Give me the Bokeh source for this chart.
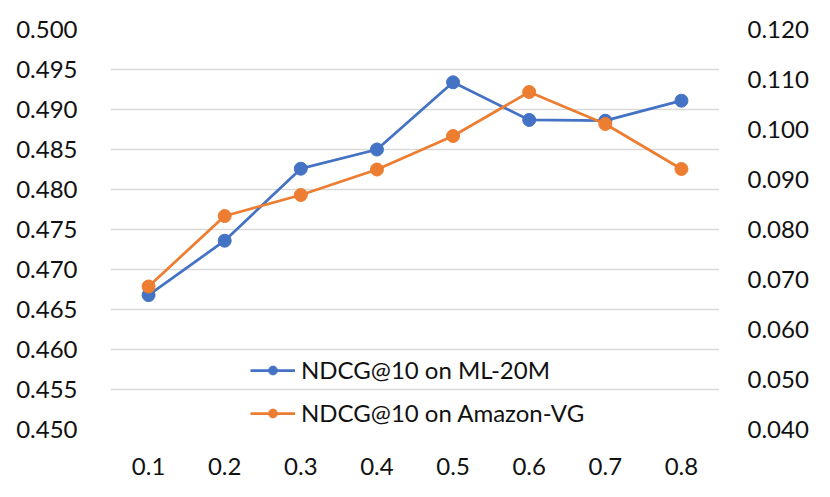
from bokeh.plotting import figure
from bokeh.models import Range1d, LinearAxis, FixedTicker, Legend, LegendItem, FactorRange, NumeralTickFormatter
from bokeh.embed import file_html
from bokeh.resources import INLINE

x_labels = ["0.1", "0.2", "0.3", "0.4", "0.5", "0.6", "0.7", "0.8"]
ml20m = [0.4668, 0.4736, 0.4826, 0.4850, 0.4934, 0.4887, 0.4886, 0.4911]
amazon_vg = [0.0686, 0.0827, 0.0869, 0.0920, 0.0987, 0.1075, 0.1011, 0.0921]
left_ticks = [0.450, 0.455, 0.460, 0.465, 0.470, 0.475, 0.480, 0.485, 0.490, 0.495, 0.500]
right_ticks = [0.040, 0.050, 0.060, 0.070, 0.080, 0.090, 0.100, 0.110, 0.120]

BLUE = "#4472C4"
ORANGE = "#ED7D31"
FONT = "Lato"
FS = "24px"
TXT = "#111111"

p = figure(x_range=FactorRange(*x_labels), y_range=Range1d(0.45, 0.50),
           width=814, height=481, output_backend="svg", toolbar_location=None,
           min_border_left=110, min_border_right=95, min_border_top=29, min_border_bottom=52)
p.extra_y_ranges = {"right": Range1d(0.04, 0.12)}

p.outline_line_color = None
p.xgrid.grid_line_color = None
p.ygrid.grid_line_color = "#D9D9D9"
p.ygrid.grid_line_width = 1.5
p.ygrid.ticker = FixedTicker(ticks=left_ticks)

def style_axis(ax, standoff):
    ax.axis_line_color = None
    ax.major_tick_line_color = None
    ax.minor_tick_line_color = None
    ax.major_label_text_font = FONT
    ax.major_label_text_font_size = FS
    ax.major_label_text_color = TXT
    ax.major_label_standoff = standoff

p.yaxis.ticker = FixedTicker(ticks=left_ticks)
p.yaxis.formatter = NumeralTickFormatter(format="0.000")
style_axis(p.yaxis[0], 27)
style_axis(p.xaxis[0], 22)

ra = LinearAxis(y_range_name="right", ticker=FixedTicker(ticks=right_ticks),
                formatter=NumeralTickFormatter(format="0.000"))
style_axis(ra, 22)
p.add_layout(ra, "right")

l1 = p.line(x_labels, ml20m, line_color=BLUE, line_width=2.75)
s1 = p.scatter(x_labels, ml20m, size=13, fill_color=BLUE, line_color=BLUE)
l2 = p.line(x_labels, amazon_vg, line_color=ORANGE, line_width=2.75, y_range_name="right")
s2 = p.scatter(x_labels, amazon_vg, size=13, fill_color=ORANGE, line_color=ORANGE, y_range_name="right")

legend = Legend(items=[LegendItem(label="NDCG@10 on ML-20M", renderers=[l1, s1]),
                       LegendItem(label="NDCG@10 on Amazon-VG", renderers=[l2, s2])],
                location=(140, 2), padding=0, margin=0, spacing=14,
                glyph_width=45, glyph_height=22, label_height=22, label_standoff=6,
                label_text_font=FONT, label_text_font_size=FS, label_text_color=TXT,
                border_line_color=None, background_fill_alpha=0)
p.add_layout(legend, "center")

open("out.html", "w").write(file_html(p, INLINE))
